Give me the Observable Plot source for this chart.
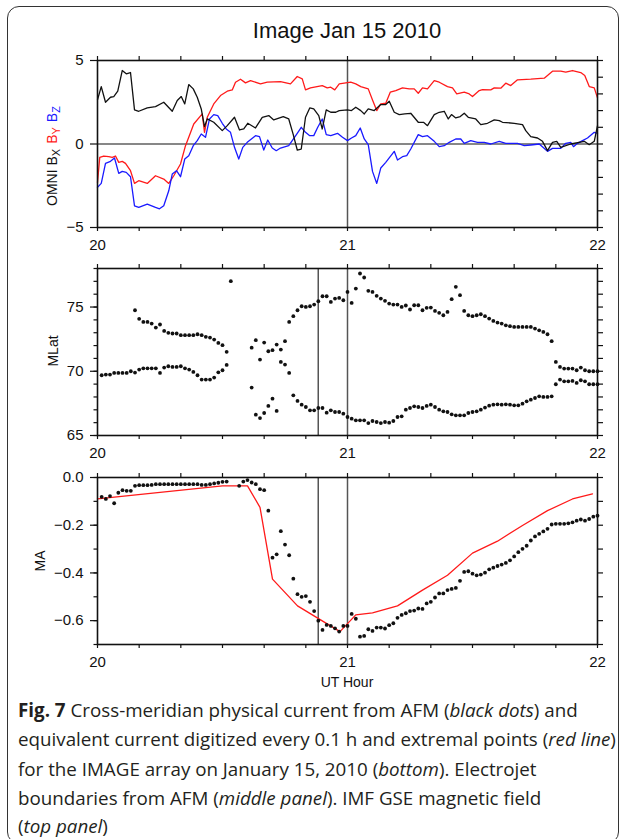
<!DOCTYPE html>
<html><head><meta charset="utf-8">
<script src="https://cdn.jsdelivr.net/npm/d3@7"></script>
<script src="https://cdn.jsdelivr.net/npm/@observablehq/plot@0.6"></script>
<style>
html,body{margin:0;padding:0;background:#fff;}
#fig{position:relative;width:625px;height:839px;overflow:hidden;background:#fff;font-family:"Liberation Sans",Arial,sans-serif;}
#border{position:absolute;left:7px;top:6px;width:612px;height:838px;border:1.5px solid #333;border-radius:12px;box-sizing:border-box;}
.panel{position:absolute;left:0;}
#title{position:absolute;left:97px;width:500px;top:18px;text-align:center;font-size:22px;line-height:26px;color:#111;}
#xlabel{position:absolute;left:97px;width:500px;top:673px;text-align:center;font-size:14px;line-height:18px;color:#111;}
.cap{position:absolute;left:18px;white-space:nowrap;font-family:"Open Sans",sans-serif;color:#231f20;line-height:26px;}
.cap b{font-weight:700;}
</style></head><body>
<div id="fig">
  <div id="border"></div>
  <div id="title">Image Jan 15 2010</div>
  <div class="panel" id="p1" style="top:45px"></div>
  <div class="panel" id="p2" style="top:253px"></div>
  <div class="panel" id="p3" style="top:462px"></div>
  <div id="xlabel">UT Hour</div>
  <div class="cap" style="top:697px"><b>Fig. 7</b> Cross-meridian physical current from AFM (<i>black dots</i>) and</div>
  <div class="cap" style="top:726.3px">equivalent current digitized every 0.1 h and extremal points (<i>red line</i>)</div>
  <div class="cap" style="top:755.6px">for the IMAGE array on January 15, 2010 (<i>bottom</i>). Electrojet</div>
  <div class="cap" style="top:784.9px">boundaries from AFM (<i>middle panel</i>). IMF GSE magnetic field</div>
  <div class="cap" style="top:813px">(<i>top panel</i>)</div>
</div>
<script>
// ---------- Top panel: OMNI IMF components (nT), time in UT hours ----------
const bxTime = [20.000, 20.015, 20.032, 20.052, 20.065, 20.081, 20.099, 20.115, 20.132, 20.148, 20.165, 20.199, 20.232, 20.265, 20.299, 20.319, 20.335, 20.349, 20.365, 20.383, 20.399, 20.415, 20.428, 20.439, 20.465, 20.499, 20.519, 20.548, 20.568, 20.585, 20.601, 20.632, 20.659, 20.685, 20.705, 20.743, 20.765, 20.783, 20.799, 20.815, 20.832, 20.849, 20.865, 20.885, 20.899, 20.915,
  20.933, 20.953, 20.967, 21.000, 21.016, 21.033, 21.053, 21.067, 21.083, 21.107, 21.133, 21.153, 21.167, 21.187, 21.207, 21.229, 21.253, 21.283, 21.304, 21.320, 21.347, 21.367, 21.387, 21.403, 21.416, 21.433, 21.451, 21.467, 21.483, 21.513, 21.533, 21.560, 21.587, 21.607, 21.620, 21.667, 21.700, 21.713, 21.733, 21.760, 21.780, 21.800, 21.820, 21.837, 21.853, 21.893, 21.947, 21.967, 21.987, 22.000];
const bxValue = [2.64, 3.44, 2.5, 2.8, 2.84, 3.16, 4.4, 4.2, 4.28, 2.04, 1.96, 2.16, 2.24, 2.5, 1.96, 2.6, 2.84, 2.4, 3.56, 3.3, 2.8, 2.1, 1.04, 1.5, 1.3, 0.8, 1.1, 1.6, 0.84, 0.9, 1.24, 0.96, 1.6, 1.7, 1.44, 1.64, 1.5, 0.56, -0.36, -0.3, 1.6, 2.16, 2.1, 1.7, 0.9, 2.04,
  1.9, 1.9, 2.0, 2.04, 2.0, 2.2, 2.0, 1.8, 2.1, 2.0, 2.36, 2.36, 2.56, 1.9, 1.76, 1.8, 1.84, 1.3, 1.3, 1.1, 1.76, 1.9, 1.96, 1.5, 1.76, 1.56, 1.64, 1.84, 1.6, 1.5, 1.16, 1.24, 1.44, 1.4, 1.3, 1.24, 1.16, 0.8, 0.44, 0.36, 0.16, -0.4, 0.1, 0.16, -0.2, 0.0, 0.16, -0.04, 0.16, 1.1];

const byTime = [20.000, 20.009, 20.025, 20.045, 20.059, 20.072, 20.085, 20.099, 20.112, 20.132, 20.148, 20.165, 20.199, 20.232, 20.265, 20.285, 20.305, 20.332, 20.352, 20.365, 20.385, 20.419, 20.428, 20.439, 20.465, 20.492, 20.519, 20.539, 20.552, 20.572, 20.592, 20.612, 20.652, 20.679, 20.732, 20.772, 20.799, 20.819, 20.832, 20.852, 20.899, 20.919,
  20.933, 20.949, 20.967, 21.013, 21.033, 21.053, 21.083, 21.100, 21.117, 21.133, 21.153, 21.171, 21.193, 21.220, 21.247, 21.267, 21.283, 21.300, 21.320, 21.347, 21.367, 21.400, 21.420, 21.437, 21.467, 21.487, 21.500, 21.527, 21.540, 21.573, 21.587, 21.613, 21.633, 21.653, 21.680, 21.733, 21.787, 21.820, 21.853, 21.873, 21.900, 21.933, 21.949, 21.967, 21.987, 22.000];
const byValue = [-2.3, -0.8, -0.72, -0.76, -0.8, -0.72, -1.1, -1.04, -1.16, -1.6, -2.36, -2.2, -2.36, -1.9, -2.1, -2.36, -1.9, -1.2, -0.1, 0.4, 1.2, 1.8, 0.7, 1.6, 2.4, 2.9, 3.16, 3.24, 3.7, 3.88, 3.66, 3.8, 3.6, 3.7, 3.74, 3.6, 4.04, 3.9, 3.24, 3.36, 3.5, 3.36,
  3.4, 3.24, 3.6, 3.7, 3.6, 3.44, 3.3, 2.64, 2.0, 2.4, 2.44, 3.1, 3.2, 3.36, 3.3, 3.3, 3.04, 3.36, 3.3, 3.8, 3.7, 3.44, 3.36, 3.0, 3.1, 3.0, 2.84, 3.2, 3.26, 3.24, 3.36, 3.34, 3.64, 3.5, 3.84, 3.88, 3.94, 4.36, 4.36, 4.3, 4.4, 4.28, 4.1, 3.44, 3.36, 2.76];

const bzTime = [20.000, 20.015, 20.032, 20.052, 20.068, 20.085, 20.099, 20.115, 20.132, 20.148, 20.165, 20.199, 20.232, 20.248, 20.265, 20.285, 20.299, 20.316, 20.332, 20.349, 20.365, 20.383, 20.399, 20.415, 20.432, 20.448, 20.465, 20.481, 20.499, 20.515, 20.532, 20.548, 20.565, 20.581, 20.599, 20.632, 20.648, 20.665, 20.681, 20.699, 20.715, 20.732, 20.765, 20.781, 20.799, 20.815, 20.832, 20.849, 20.865, 20.881, 20.899, 20.915,
  20.933, 20.960, 20.980, 21.000, 21.016, 21.033, 21.051, 21.067, 21.083, 21.100, 21.117, 21.133, 21.153, 21.187, 21.200, 21.220, 21.237, 21.253, 21.283, 21.300, 21.320, 21.347, 21.367, 21.387, 21.407, 21.433, 21.453, 21.467, 21.493, 21.520, 21.547, 21.573, 21.607, 21.633, 21.680, 21.707, 21.733, 21.767, 21.800, 21.820, 21.853, 21.873, 21.893, 21.904, 21.920, 21.940, 21.960, 21.987, 22.000];
const bzValue = [-2.6, -2.36, -1.16, -1.04, -0.84, -1.76, -1.64, -1.7, -1.96, -3.7, -3.8, -3.6, -3.8, -3.88, -3.7, -2.8, -1.8, -1.6, -1.96, -0.9, -0.7, -0.1, 0.2, 0.6, 0.4, 1.5, 1.76, 1.7, 1.24, 0.9, 0.7, -0.2, -0.9, -0.2, 0.1, 0.5, 0.44, -0.36, 0.24, -0.24, -0.4, -0.24, -0.1, 0.24, 0.64, 1.0, 0.7, 0.5, 0.5, 1.0, 1.5, 0.56,
  0.5, 0.64, 0.4, 0.2, 0.36, 0.5, 0.96, 0.3, -0.04, -1.64, -2.36, -1.44, -1.1, -0.44, -0.96, -0.76, -0.7, -0.3, 0.56, 0.44, 0.5, 0.16, -0.16, -0.1, 0.1, 0.3, 0.3, 0.04, 0.2, 0.1, 0.1, 0.0, 0.16, 0.04, 0.04, -0.1, -0.06, 0.0, -0.44, -0.26, -0.26, 0.04, 0.1, -0.16, 0.04, 0.2, 0.36, 0.7, 0.64];

// ---------- Middle panel: electrojet boundaries (MLat), 1-min samples after 20 UT ----------
const poleMinutes = [...d3.range(9, 33), ...d3.range(37, 121)];
const poleLat = [74.75, 74.08, 73.84, 73.84, 73.71, 73.40, 73.64, 73.14, 72.99, 72.94, 72.94, 72.81, 72.81, 72.81, 72.81, 72.88, 72.81, 72.68, 72.62, 72.47, 72.21, 72.03, 71.51, 77.01,
  71.84, 72.42, 70.91, 72.23, 71.56, 71.64, 72.08, 71.69, 72.34, 73.84,
  74.29, 74.75, 75.06, 75.01, 75.06, 75.19, 75.45, 75.84, 75.84, 75.40,
  75.66, 75.71, 75.53, 76.18, 75.32, 76.44, 77.61, 77.30, 76.26, 76.18,
  75.87, 75.66, 75.48, 75.27, 75.19, 75.19, 75.01, 75.12, 74.81, 75.14,
  75.14, 74.75, 74.94, 74.96, 74.70, 74.55, 74.36, 74.62, 75.61, 76.57,
  75.92, 74.70, 74.36, 74.29, 74.36, 74.44, 74.29, 74.10, 73.92, 73.79,
  73.71, 73.58, 73.51, 73.45, 73.45, 73.45, 73.45, 73.45, 73.32, 73.19,
  73.06, 72.88, 72.34, 70.73, 70.34, 70.21, 70.21, 70.21, 70.08, 70.29,
  70.08, 70.0, 70.0, 70.0];
const equMinutes = [...d3.range(1, 32), ...d3.range(37, 121)];
const equLat = [69.69, 69.74, 69.74, 69.87, 69.87, 69.87, 69.87, 70.0, 69.9, 70.13, 70.23, 70.23, 70.23, 70.23, 69.87, 70.29, 70.39, 70.34, 70.34, 70.39, 70.23, 70.13, 69.95, 69.69, 69.35, 69.35, 69.35, 69.51, 69.92, 70.08, 70.49,
  68.73, 66.62, 66.36, 66.75, 67.30, 67.87, 66.91, 70.73, 70.52, 69.87,
  68.13, 67.69, 67.40, 67.22, 66.96, 66.96, 67.14, 67.14, 66.78, 66.96,
  66.83, 66.83, 66.70, 66.44, 66.31, 66.18, 66.18, 66.18, 65.97, 66.13,
  66.05, 65.97, 66.05, 66.0, 66.13, 66.44, 66.49, 67.01, 67.14, 67.27,
  67.22, 67.14, 67.30, 67.40, 67.22, 67.01, 66.88, 66.83, 66.65, 66.57,
  66.57, 66.57, 66.75, 66.83, 66.88, 67.01, 67.17, 67.32, 67.40, 67.43,
  67.40, 67.43, 67.40, 67.35, 67.35, 67.48, 67.66, 67.79, 67.92, 68.05,
  68.0, 68.0, 68.05, 68.99, 69.35, 69.22, 69.22, 69.25, 69.09, 69.30,
  69.22, 68.99, 68.99, 68.99];
const boundaryLines = [20.883, 21.0];

// ---------- Bottom panel: MA (AFM dots, 1-min) and equivalent current (red line) ----------
const maMinutes = [...d3.range(1, 32), ...d3.range(34, 121)];
const maValue = [-0.081, -0.090, -0.078, -0.108, -0.064, -0.053, -0.056, -0.056, -0.035, -0.032, -0.032, -0.032, -0.031,
  -0.028, -0.028, -0.028, -0.028, -0.028, -0.028, -0.028, -0.028, -0.028, -0.028, -0.028,
  -0.031, -0.031, -0.028, -0.025, -0.022, -0.018, -0.017,
  -0.035, -0.017, -0.011, -0.021, -0.028, -0.049, -0.053, -0.139, -0.336, -0.322, -0.225, -0.281, -0.326, -0.424, -0.489, -0.5, -0.497, -0.521, -0.56, -0.6, -0.639, -0.618,
  -0.622, -0.632, -0.646, -0.622, -0.622, -0.572, -0.592, -0.667, -0.664, -0.636,
  -0.643, -0.629, -0.629, -0.633, -0.619, -0.611, -0.588, -0.576, -0.569, -0.56,
  -0.558, -0.549, -0.551, -0.528, -0.521, -0.503, -0.486, -0.486, -0.472, -0.467,
  -0.463, -0.433, -0.396, -0.393, -0.403, -0.41, -0.407, -0.399, -0.385, -0.378,
  -0.371, -0.365, -0.358, -0.347, -0.331, -0.313, -0.299, -0.286, -0.264, -0.247,
  -0.236, -0.226, -0.215, -0.197, -0.194, -0.194, -0.194, -0.192, -0.188, -0.181,
  -0.176, -0.181, -0.174, -0.164, -0.16];
const eqTime = [20.0, 20.5, 20.6, 20.65, 20.7, 20.8, 20.97, 21.033, 21.1, 21.2, 21.3, 21.4, 21.5, 21.6, 21.7, 21.8, 21.9, 21.98];
const eqValue = [-0.09, -0.035, -0.035, -0.125, -0.426, -0.538, -0.646, -0.576, -0.567, -0.538, -0.472, -0.41, -0.317, -0.267, -0.201, -0.139, -0.09, -0.069];

// ---------- Ticks ----------
const xTickLabels = [20, 21, 22];
const xMinorTicks = d3.range(0, 13).map(i => 20 + i / 6);
const y1Major = [-5, 0, 5];
const y1Right = d3.range(-5, 6);
const y2Major = [65, 70, 75];
const y2Minor = d3.range(65, 79);
const y3Major = [0, -0.2, -0.4, -0.6];
const y3Minor = d3.range(0, 8).map(i => -i / 10);

// ---------- Build tables ----------
const zip = (t, v) => t.slice(0, Math.min(t.length, v.length)).map((d, i) => ({t: d, v: v[i]}));
const fromMin = (m, v) => m.slice(0, Math.min(m.length, v.length)).map((d, i) => ({t: 20 + d / 60, v: v[i]}));
const bx = zip(bxTime, bxValue), by = zip(byTime, byValue), bz = zip(bzTime, bzValue);
const mlat = [...fromMin(poleMinutes, poleLat), ...fromMin(equMinutes, equLat)];
const ma = fromMin(maMinutes, maValue);
const eq = zip(eqTime, eqValue);

const FONT = "'Liberation Sans', Arial, Helvetica, sans-serif";
const blank = () => "";

function panel({yDomain, yMajor, yLeftMinor, yRightMinor, yFormat, marks}) {
  return Plot.plot({
    width: 625, height: 15 + 167 + 30,
    marginLeft: 97, marginRight: 28, marginTop: 15, marginBottom: 30,
    x: {domain: [20, 22], label: null},
    y: {domain: yDomain, label: null},
    style: {fontFamily: FONT, fontSize: "15px", color: "#111", background: "transparent", overflow: "visible"},
    marks: [
      ...marks,
      Plot.frame({stroke: "#111", strokeWidth: 1.6}),
      Plot.axisX(xMinorTicks, {anchor: "bottom", tickSize: 4, tickFormat: blank, label: null, strokeWidth: 1.2}),
      Plot.axisX(xMinorTicks, {anchor: "top", tickSize: 5, tickFormat: blank, label: null, strokeWidth: 1.2}),
      Plot.axisX(xTickLabels, {anchor: "bottom", tickSize: 0, tickPadding: 12, tickFormat: d => String(d), label: null}),
      ...(yLeftMinor.length ? [Plot.axisY(yLeftMinor, {anchor: "left", tickSize: 3.5, tickFormat: blank, label: null, strokeWidth: 1.2})] : []),
      Plot.axisY(yMajor, {anchor: "left", tickSize: 7, tickPadding: 7, tickFormat: yFormat, label: null, strokeWidth: 1.2}),
      Plot.axisY(yRightMinor, {anchor: "right", tickSize: 5, tickFormat: blank, label: null, strokeWidth: 1.2})
    ]
  });
}

const p1 = panel({
  yDomain: [-5, 5], yMajor: y1Major, yLeftMinor: [], yRightMinor: y1Right, yFormat: d3.format("d"),
  marks: [
    Plot.ruleY([0], {stroke: "#111", strokeWidth: 1.2}),
    Plot.ruleX([21], {stroke: "#555", strokeWidth: 1.5}),
    Plot.line(by, {x: "t", y: "v", stroke: "#ff1a1a", strokeWidth: 1.3}),
    Plot.line(bz, {x: "t", y: "v", stroke: "#1a1aff", strokeWidth: 1.3}),
    Plot.line(bx, {x: "t", y: "v", stroke: "#111", strokeWidth: 1.3})
  ]
});
const p2 = panel({
  yDomain: [65, 78], yMajor: y2Major, yLeftMinor: y2Minor, yRightMinor: y2Minor, yFormat: d3.format("d"),
  marks: [
    Plot.ruleX(boundaryLines, {stroke: "#555", strokeWidth: 1.5}),
    Plot.dot(mlat, {x: "t", y: "v", r: 1.9, fill: "#111", stroke: null})
  ]
});
const p3 = panel({
  yDomain: [-0.7, 0], yMajor: y3Major, yLeftMinor: y3Minor, yRightMinor: y3Minor, yFormat: d3.format(".1f"),
  marks: [
    Plot.ruleX(boundaryLines, {stroke: "#555", strokeWidth: 1.5}),
    Plot.line(eq, {x: "t", y: "v", stroke: "#ff1a1a", strokeWidth: 1.3}),
    Plot.dot(ma, {x: "t", y: "v", r: 1.9, fill: "#111", stroke: null})
  ]
});
document.getElementById("p1").appendChild(p1);
document.getElementById("p2").appendChild(p2);
document.getElementById("p3").appendChild(p3);

// y-axis titles (rotated), top panel with coloured subscripted parts
function ylabel(svg, x, y, parts) {
  const t = d3.select(svg).append("text")
    .attr("transform", `translate(${x},${y}) rotate(-90)`)
    .attr("text-anchor", "middle")
    .style("font-family", FONT).style("font-size", "14px");
  parts.forEach(p => {
    const s = t.append("tspan").text(p.text).attr("fill", p.color || "#111");
    if (p.dx) s.attr("dx", p.dx);
    if (p.sub) s.attr("dy", 3).style("font-size", "11px");
    if (p.unsub) s.attr("dy", -3);
  });
}
ylabel(p1, 57, 156 - 45, [
  {text: "OMNI B"}, {text: "X", sub: true},
  {text: "B", color: "#ff1a1a", dx: 5, unsub: true}, {text: "Y", color: "#ff1a1a", sub: true},
  {text: "B", color: "#1a1aff", dx: 5, unsub: true}, {text: "Z", color: "#1a1aff", sub: true}
]);
ylabel(p2, 58, 351 - 253, [{text: "MLat"}]);
ylabel(p3, 45, 561 - 462, [{text: "MA"}]);

// fit caption font so the widest line spans the reference width (x 18 -> 600)
(function fitCaption() {
  const caps = document.querySelectorAll(".cap");
  caps.forEach(c => c.style.fontSize = "20px");
  const w = caps[1].getBoundingClientRect().width;
  const fs = 20 * 598 / w;
  caps.forEach(c => c.style.fontSize = fs.toFixed(2) + "px");
})();
</script>
</body></html>
